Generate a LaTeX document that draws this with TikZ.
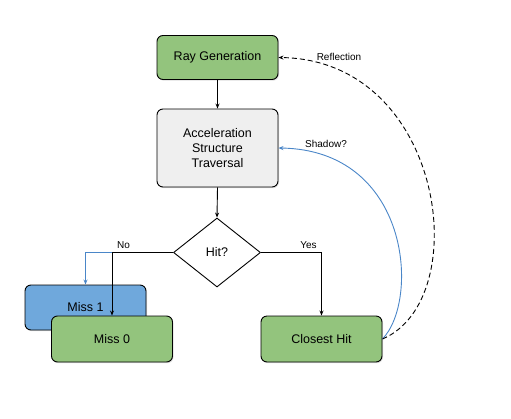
\documentclass[tikz,border=0pt]{standalone}
\usepackage{fontspec}
\setmainfont{Liberation Sans}
\usetikzlibrary{shapes.geometric,arrows.meta,shadows}
\definecolor{gfill}{HTML}{93C47D}
\definecolor{bfill}{HTML}{6FA8DC}
\definecolor{grfill}{HTML}{EFEFEF}
\definecolor{bline}{HTML}{4A86C8}
\tikzset{
  box/.style={draw=black, line width=0.9pt, rounded corners=6pt, minimum width=121pt, minimum height=44pt,
    inner sep=0pt, font=\fontsize{12.5}{15}\selectfont, align=center,
    drop shadow={opacity=0.25, shadow xshift=1pt, shadow yshift=-1.2pt}},
  greenbox/.style={box, fill=gfill},
  dia/.style={draw=black, line width=0.9pt, diamond, aspect=1.26, minimum width=87pt, minimum height=69pt,
    inner sep=0pt, fill=white, font=\fontsize{12.5}{15}\selectfont},
  conn/.style={line width=0.9pt, -{Stealth[length=5pt,width=4pt]}},
  lbl/.style={font=\fontsize{10}{12}\selectfont, inner sep=0pt}
}
\begin{document}
\begin{tikzpicture}[x=1pt,y=-1pt]
\useasboundingbox (0,0) rectangle (511,418);
\node[greenbox] (ray) at (217.5,57.5) {Ray Generation};
\node[box, fill=grfill, minimum height=78pt] (acc) at (217.5,148) {Acceleration\\Structure\\Traversal};
\node[dia] (hit) at (217,252.5) {Hit?};
\node[box, fill=bfill, minimum height=45pt] (miss1) at (85.5,307.5) {Miss 1};
\node[greenbox, minimum height=46pt] (miss0) at (112,339) {Miss 0};
\node[greenbox, minimum height=46pt] (closest) at (321.5,339) {Closest Hit};
\coordinate (nojoin) at (112,252.5);
\draw[conn] (ray.south) -- (acc.north);
\draw[conn] (acc.south) -- (hit.north);
\draw[conn, bline] (nojoin) -| (miss1.north);
\draw[conn] (hit.west) -| (miss0.north);
\draw[conn] (hit.east) -| (closest.north);
\draw[conn, bline] (closest.east) .. controls (420,300) and (410,150) .. (acc.east);
\draw[conn, dashed, dash pattern=on 5pt off 3pt] (closest.east) .. controls (475,300) and (445,60) .. (ray.east);
\node[lbl] (nolbl) at (123.5,245) {No};
\node[lbl] (yeslbl) at (308.5,245.5) {Yes};
\node[lbl] (shlbl) at (326,144) {Shadow?};
\node[lbl] (reflbl) at (339,56.5) {Reflection};
\end{tikzpicture}
\end{document}
